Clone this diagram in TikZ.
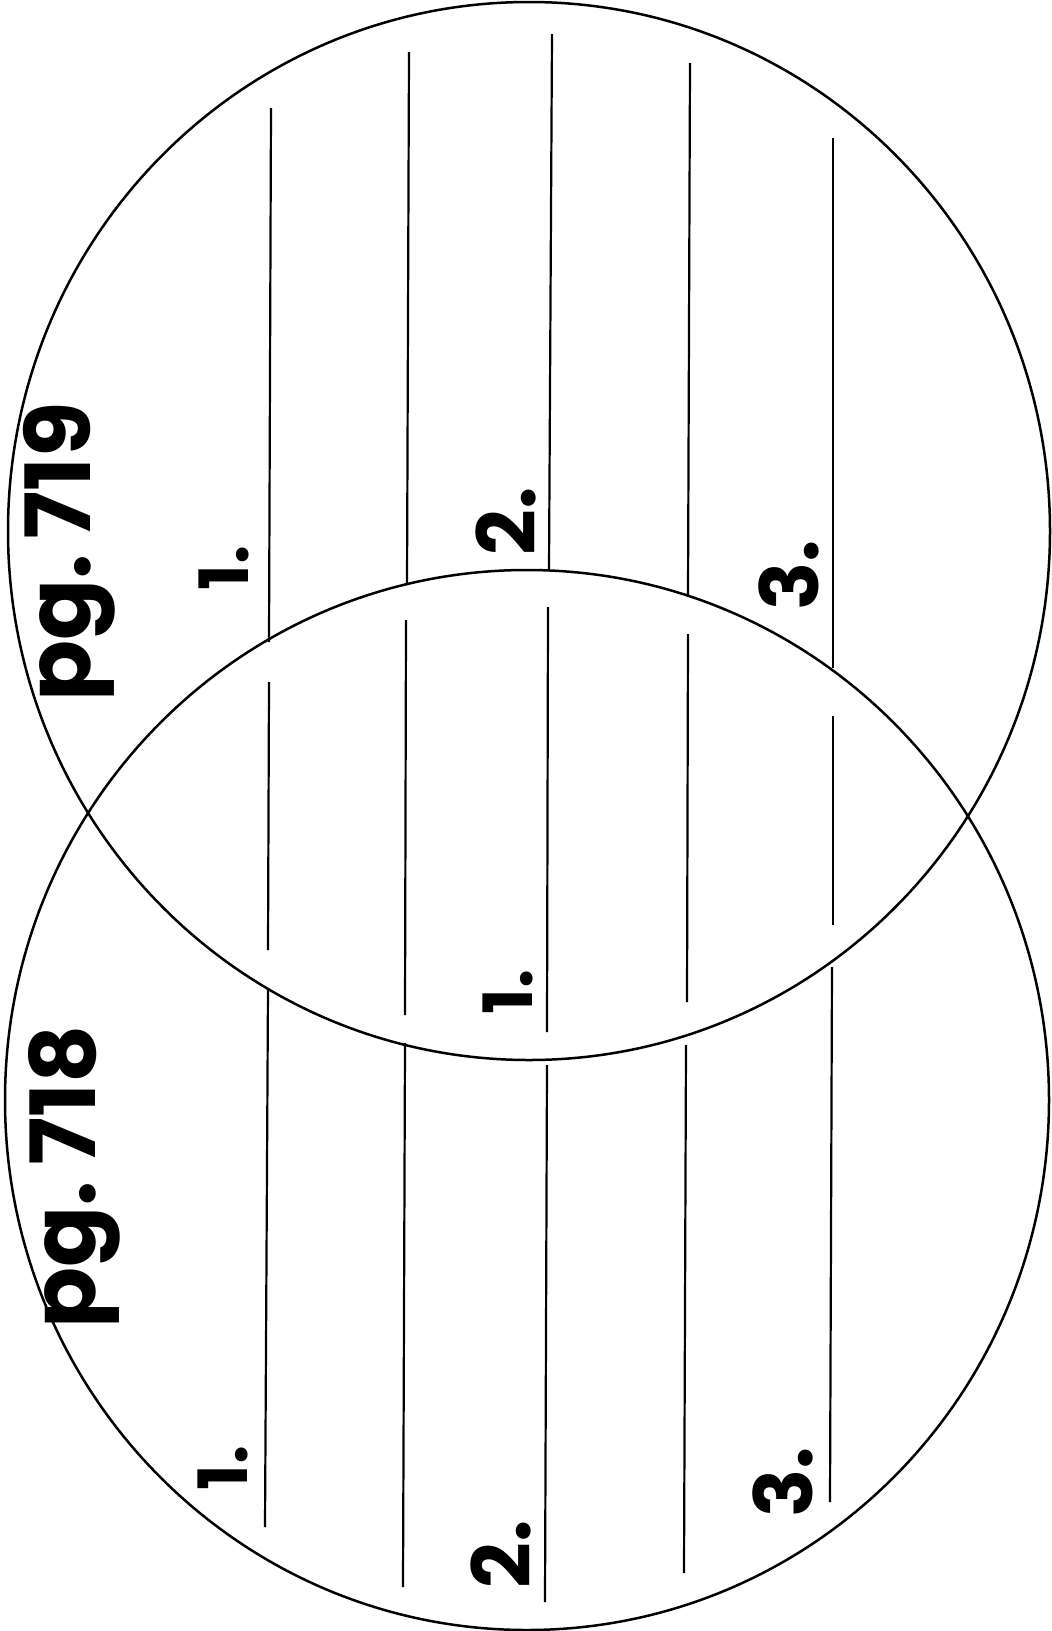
\documentclass[tikz,border=0pt]{standalone}
\usepackage{fontspec}
\setmainfont{Poppins}
\begin{document}
\begin{tikzpicture}[x=1pt,y=-1pt,
  ring/.style={line width=2.5pt},
  rule/.style={line width=2.2pt},
  lbl/.style={rotate=90, anchor=base, inner sep=0pt, font=\fontsize{80}{80}\selectfont\bfseries},
  one/.style={lbl, font=\fontsize{68}{68}\selectfont\bfseries},
  ttl/.style={rotate=90, anchor=base, inner sep=0pt, font=\fontsize{90}{90}\selectfont\bfseries}]
\useasboundingbox[fill=white] (0,0) rectangle (1052,1631);
% circles
\draw[ring] (529,531) ellipse [x radius=521, y radius=529];
\draw[ring] (527,1100) ellipse [x radius=522, y radius=530];
% column 1
\draw[rule] (271,108) -- (269,642);
\draw[rule] (269,682) -- (268,950);
\draw[rule] (268,988) -- (265,1527);
% column 2
\draw[rule] (409,52) -- (407,585);
\draw[rule] (406,620) -- (405,1015);
\draw[rule] (405,1043) -- (403,1587);
% column 3
\draw[rule] (552,34) -- (549,570);
\draw[rule] (548,607) -- (547,1032);
\draw[rule] (547,1065) -- (545,1602);
% column 4
\draw[rule] (690,63) -- (688,595);
\draw[rule] (688,634) -- (687,1002);
\draw[rule] (686,1045) -- (684,1573);
% column 5
\draw[rule] (833,138) -- (833,668);
\draw[rule] (833,716) -- (833,925);
\draw[rule] (832,967) -- (830,1502);
% titles
\node[ttl] (p719) at (90,552) {pg.\,719};
\node[ttl] (p718) at (95,1177) {pg.\,718};
% top circle labels
\node[one] (a1) at (248,568) {1.};
\node[lbl] (a2) at (535,521) {2.};
\node[lbl] (a3) at (818,575) {3.};
% middle
\node[one] (m1) at (532,992) {1.};
% bottom circle labels
\node[one] (b1) at (247,1468) {1.};
\node[lbl] (b2) at (530,1554) {2.};
\node[lbl] (b3) at (812,1482) {3.};
\end{tikzpicture}
\end{document}
